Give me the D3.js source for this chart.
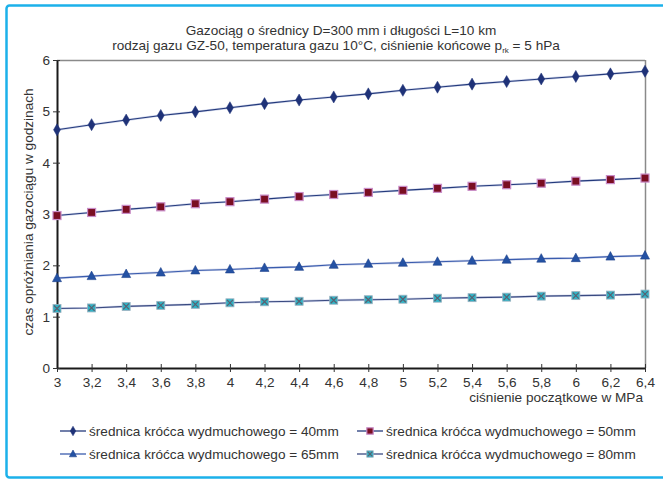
<!DOCTYPE html>
<html>
<head>
<meta charset="utf-8">
<script src="https://cdn.jsdelivr.net/npm/d3@7"></script>
<style>
  body { margin: 0; background: #fff; }
  svg { display: block; font-family: "Liberation Sans", Arial, sans-serif; }
</style>
</head>
<body>
<svg id="drawing_region"></svg>
<script>
const pressures = [3, 3.2, 3.4, 3.6, 3.8, 4, 4.2, 4.4, 4.6, 4.8, 5, 5.2, 5.4, 5.6, 5.8, 6, 6.2, 6.4];
const hours40 = [4.64, 4.74, 4.83, 4.92, 4.99, 5.07, 5.15, 5.22, 5.28, 5.34, 5.41, 5.47, 5.53, 5.58, 5.63, 5.68, 5.73, 5.78];
const hours50 = [2.97, 3.03, 3.09, 3.14, 3.20, 3.24, 3.29, 3.34, 3.38, 3.42, 3.46, 3.50, 3.54, 3.57, 3.60, 3.64, 3.67, 3.70];
const hours65 = [1.75, 1.79, 1.83, 1.86, 1.90, 1.92, 1.95, 1.97, 2.01, 2.03, 2.05, 2.07, 2.09, 2.11, 2.13, 2.14, 2.17, 2.19];
const hours80 = [1.16, 1.17, 1.20, 1.22, 1.24, 1.27, 1.29, 1.30, 1.32, 1.33, 1.34, 1.36, 1.37, 1.38, 1.40, 1.41, 1.42, 1.44];
const seriesNames = [
    "średnica króćca wydmuchowego = 40mm",
    "średnica króćca wydmuchowego = 50mm",
    "średnica króćca wydmuchowego = 65mm",
    "średnica króćca wydmuchowego = 80mm"
];
const xTicks = pressures;
const yTicks = [0, 1, 2, 3, 4, 5, 6];

const W = 663, H = 479;
const margin = { top: 60, right: 18, bottom: 111, left: 57 };
const FS = 13.6;

const series = [
    { name: seriesNames[0], values: hours40, marker: "diamond", fill: "#1f3278", stroke: "#1f3278", line: "#243a7c" },
    { name: seriesNames[1], values: hours50, marker: "square", fill: "#7a0e22", stroke: "#c98cc8", line: "#243a7c" },
    { name: seriesNames[2], values: hours65, marker: "triangle", fill: "#2452a4", stroke: "#2452a4", line: "#3a5cae" },
    { name: seriesNames[3], values: hours80, marker: "xsquare", fill: "#2fb3c6", stroke: "#7a8ea0", line: "#3a4a80" }
];

const svg = d3.select("#drawing_region").attr("width", W).attr("height", H);

// outer frame
svg.append("rect")
    .attr("x", 6.5).attr("y", 5.5)
    .attr("width", 670).attr("height", 472)
    .attr("rx", 3)
    .attr("fill", "#fff")
    .attr("stroke", "#1cb1ea")
    .attr("stroke-width", 2.5);

const inner_width = W - margin.left - margin.right;
const inner_height = H - margin.top - margin.bottom;

const xscale = d3.scaleLinear().domain([3, 6.4]).range([0, inner_width]);
const yscale = d3.scaleLinear().domain([0, 6]).range([inner_height, 0]);

const chart = svg.append("g").attr("transform", `translate(${margin.left}, ${margin.top})`);

// top and right frame lines
chart.append("line")
    .attr("x1", 0).attr("x2", inner_width).attr("y1", 0.5).attr("y2", 0.5)
    .attr("stroke", "#8a8a8a").attr("stroke-width", 1.5);
chart.append("line")
    .attr("x1", inner_width + 0.5).attr("x2", inner_width + 0.5).attr("y1", 0).attr("y2", inner_height)
    .attr("stroke", "#8a8a8a").attr("stroke-width", 1.5);

const fmt = d => String(+d.toFixed(1)).replace(".", ",");

const xaxis = d3.axisBottom(xscale).tickValues(xTicks).tickFormat(fmt).tickSize(4).tickSizeOuter(0).tickPadding(5);
const yaxis = d3.axisLeft(yscale).tickValues(yTicks).tickFormat(d => d).tickSize(4).tickSizeOuter(0).tickPadding(3);

const xg = chart.append("g").attr("transform", `translate(0, ${inner_height})`).call(xaxis);
const yg = chart.append("g").call(yaxis);

[xg, yg].forEach(g => {
    g.select(".domain").attr("stroke", "#1a1a1a").attr("stroke-width", 2);
    g.selectAll(".tick line").attr("stroke", "#333").attr("stroke-width", 1);
    g.selectAll(".tick text").attr("fill", "#333").attr("font-size", FS)
        .attr("font-family", "'Liberation Sans', Arial, sans-serif");
});
xg.selectAll(".tick line").attr("y1", -4);
yg.selectAll(".tick line").attr("x1", 3);

// axis titles
svg.append("text")
    .attr("x", 643).attr("y", 402)
    .attr("text-anchor", "end")
    .attr("font-size", FS).attr("fill", "#333")
    .text("ciśnienie początkowe w MPa");

svg.append("text")
    .attr("transform", "translate(33, 212) rotate(-90)")
    .attr("text-anchor", "middle")
    .attr("font-size", FS).attr("fill", "#333")
    .text("czas opróżniania gazociągu w godzinach");

// title
svg.append("text")
    .attr("x", 341).attr("y", 35)
    .attr("text-anchor", "middle")
    .attr("font-size", FS).attr("fill", "#333")
    .text("Gazociąg o średnicy D=300 mm i długości L=10 km");

const t2 = svg.append("text")
    .attr("x", 336).attr("y", 50)
    .attr("text-anchor", "middle")
    .attr("font-size", FS).attr("fill", "#333");
t2.append("tspan").text("rodzaj gazu GZ-50, temperatura gazu 10°C, ciśnienie końcowe p");
t2.append("tspan").attr("font-size", 8).attr("dy", 3).text("rk");
t2.append("tspan").attr("dy", -3).text(" = 5 hPa");

// markers
function drawMarker(g, type, s, k) {
    k = k || 1;
    if (type === "diamond") {
        g.append("path").attr("d", d3.symbol(d3.symbolDiamond, 42 * k * k)())
            .attr("fill", s.fill).attr("stroke", s.stroke).attr("stroke-width", 0.5);
    } else if (type === "square") {
        g.append("rect").attr("x", -4 * k).attr("y", -4 * k).attr("width", 8 * k).attr("height", 8 * k)
            .attr("fill", s.fill).attr("stroke", s.stroke).attr("stroke-width", 1.2);
    } else if (type === "triangle") {
        g.append("path").attr("d", `M0,${-5 * k}L${4.5 * k},${3.5 * k}L${-4.5 * k},${3.5 * k}Z`)
            .attr("fill", s.fill).attr("stroke", "#1d3f8a").attr("stroke-width", 0.6);
    } else {
        g.append("rect").attr("x", -4 * k).attr("y", -4 * k).attr("width", 8 * k).attr("height", 8 * k)
            .attr("fill", s.fill).attr("stroke", "#9ab0bf").attr("stroke-width", 0.8);
        g.append("path").attr("d", `M${-3 * k},${-3 * k}L${3 * k},${3 * k}M${3 * k},${-3 * k}L${-3 * k},${3 * k}`)
            .attr("stroke", "#5a6070").attr("stroke-width", 1.2);
    }
}

const line = d3.line()
    .x((d, i) => xscale(pressures[i]))
    .y(d => yscale(d));

series.forEach(s => {
    chart.append("path")
        .datum(s.values)
        .attr("d", line)
        .attr("fill", "none")
        .attr("stroke", "#cfd5ea")
        .attr("stroke-width", 2.3);
    chart.append("path")
        .datum(s.values)
        .attr("d", line)
        .attr("fill", "none")
        .attr("stroke", s.line)
        .attr("stroke-width", 1.1);
});

series.forEach(s => {
    s.values.forEach((v, i) => {
        const g = chart.append("g")
            .attr("transform", `translate(${xscale(pressures[i])}, ${yscale(v)})`);
        drawMarker(g, s.marker, s);
    });
});

// legend
const legendPos = [
    { x: 60, y: 431 }, { x: 357, y: 431 },
    { x: 60, y: 454 }, { x: 357, y: 454 }
];
series.forEach((s, i) => {
    const p = legendPos[i];
    const g = svg.append("g").attr("transform", `translate(${p.x}, ${p.y})`);
    g.append("line").attr("x1", 0).attr("x2", 26).attr("y1", 0).attr("y2", 0)
        .attr("stroke", s.line).attr("stroke-width", 1.3);
    drawMarker(g.append("g").attr("transform", "translate(13, 0)"), s.marker, s, 0.8);
    g.append("text")
        .attr("x", 29).attr("y", 4.8)
        .attr("font-size", FS).attr("fill", "#333")
        .text(s.name);
});
</script>
</body>
</html>
